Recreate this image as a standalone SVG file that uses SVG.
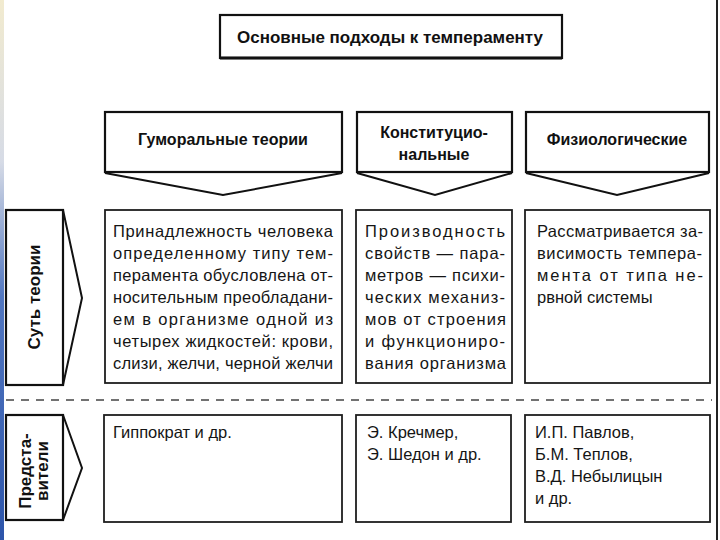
<svg xmlns="http://www.w3.org/2000/svg" width="720" height="540" viewBox="0 0 720 540">
  <style>
    .box { fill: #ffffff; stroke: #1e1e1e; stroke-width: 1.8; }
    .hbox { fill: #ffffff; stroke: #111111; stroke-width: 2.2; }
    .chev { fill: none; stroke: #111111; stroke-width: 2; stroke-linejoin: miter; }
    .dash { stroke: #444444; stroke-width: 1.6; stroke-dasharray: 8 7; }
    .t { font-family: "Liberation Sans", Arial, sans-serif; font-size: 16.5px; fill: #151515; }
    .b { font-family: "Liberation Sans", Arial, sans-serif; font-weight: bold; font-size: 16px; fill: #111111; }
    .title { font-family: "Liberation Sans", Arial, sans-serif; font-weight: bold; font-size: 17px; fill: #111111; }
    .v { font-family: "Liberation Sans", Arial, sans-serif; font-weight: bold; font-size: 17px; fill: #111111; }
  </style>
  <defs>
    <linearGradient id="edge" x1="0" y1="0" x2="0" y2="1">
      <stop offset="0" stop-color="#f2ebcf"/>
      <stop offset="0.3" stop-color="#d6dbe6"/>
      <stop offset="0.55" stop-color="#5277c0"/>
      <stop offset="1" stop-color="#2d55aa"/>
    </linearGradient>
  </defs>
  <rect x="0" y="0" width="720" height="540" fill="#ffffff"/>
  <rect x="0" y="0" width="4" height="540" fill="url(#edge)"/>
  <line x1="717" y1="0" x2="717" y2="540" stroke="#222222" stroke-width="2"/>

  <g id="title">
    <rect class="hbox" x="220" y="15" width="342" height="43"/>
    <line x1="220" y1="58" x2="562" y2="58" stroke="#111111" stroke-width="3"/>
    <text class="title" x="390" y="43" text-anchor="middle" textLength="306" lengthAdjust="spacingAndGlyphs">Основные подходы к темпераменту</text>
  </g>

  <g id="head-humoral">
    <rect class="hbox" x="105" y="112" width="237" height="60"/>
    <text class="b" x="223" y="145" text-anchor="middle">Гуморальные теории</text>
  </g>
  <g id="head-constitution">
    <rect class="hbox" x="357" y="112" width="155" height="60"/>
    <text class="b" x="434" y="138" text-anchor="middle">Конституцио-</text>
    <text class="b" x="434" y="160" text-anchor="middle">нальные</text>
  </g>
  <g id="head-physio">
    <rect class="hbox" x="526" y="112" width="183" height="60"/>
    <text class="b" x="617" y="145" text-anchor="middle">Физиологические</text>
  </g>

  <g id="label-essence">
    <rect class="hbox" x="6" y="210" width="57" height="175"/>
    <text class="v" x="34.5" y="302" text-anchor="middle" transform="rotate(-90 34.5 297)">Суть теории</text>
  </g>
  <g id="label-representatives">
    <rect class="hbox" x="6" y="415" width="57" height="105"/>
    <g transform="rotate(-90 34.5 471)">
      <text class="v" x="34.5" y="467.5" text-anchor="middle">Предста-</text>
      <text class="v" x="34.5" y="484.5" text-anchor="middle">вители</text>
    </g>
  </g>

  <g id="essence-humoral">
    <rect class="box" x="105" y="210" width="237" height="173"/>
    <text class="t" x="113" y="237" textLength="220" lengthAdjust="spacing">Принадлежность человека</text>
    <text class="t" x="113" y="259" textLength="220" lengthAdjust="spacing">определенному типу тем-</text>
    <text class="t" x="113" y="281" textLength="220" lengthAdjust="spacing">перамента обусловлена от-</text>
    <text class="t" x="113" y="303" textLength="220" lengthAdjust="spacing">носительным преобладани-</text>
    <text class="t" x="113" y="325" textLength="220" lengthAdjust="spacing">ем в организме одной из</text>
    <text class="t" x="113" y="347" textLength="220" lengthAdjust="spacing">четырех жидкостей: крови,</text>
    <text class="t" x="113" y="369" textLength="220" lengthAdjust="spacing">слизи, желчи, черной желчи</text>
  </g>
  <g id="essence-constitution">
    <rect class="box" x="356" y="210" width="156" height="173"/>
    <text class="t" x="365" y="237" textLength="140" lengthAdjust="spacing">Производность</text>
    <text class="t" x="365" y="259" textLength="140" lengthAdjust="spacing">свойств — пара-</text>
    <text class="t" x="365" y="281" textLength="140" lengthAdjust="spacing">метров — психи-</text>
    <text class="t" x="365" y="303" textLength="140" lengthAdjust="spacing">ческих механиз-</text>
    <text class="t" x="365" y="325" textLength="141" lengthAdjust="spacing">мов от строения</text>
    <text class="t" x="365" y="347" textLength="140" lengthAdjust="spacing">и функциониро-</text>
    <text class="t" x="365" y="369" textLength="141" lengthAdjust="spacing">вания организма</text>
  </g>
  <g id="essence-physio">
    <rect class="box" x="525" y="210" width="185" height="173"/>
    <text class="t" x="537" y="237" textLength="166" lengthAdjust="spacing">Рассматривается за-</text>
    <text class="t" x="537" y="259" textLength="165" lengthAdjust="spacing">висимость темпера-</text>
    <text class="t" x="537" y="281" textLength="166" lengthAdjust="spacing">мента от типа не-</text>
    <text class="t" x="537" y="303">рвной системы</text>
  </g>

  <g id="rep-humoral">
    <rect class="box" x="104" y="415" width="238" height="107"/>
    <text class="t" x="113" y="438">Гиппократ и др.</text>
  </g>
  <g id="rep-constitution">
    <rect class="box" x="356" y="415" width="155" height="107"/>
    <text class="t" x="367" y="438">Э. Кречмер,</text>
    <text class="t" x="367" y="460">Э. Шедон и др.</text>
  </g>
  <g id="rep-physio">
    <rect class="box" x="525" y="415" width="185" height="107"/>
    <text class="t" x="535" y="438">И.П. Павлов,</text>
    <text class="t" x="535" y="460">Б.М. Теплов,</text>
    <text class="t" x="535" y="482">В.Д. Небылицын</text>
    <text class="t" x="535" y="504">и др.</text>
  </g>

  <g id="connectors">
    <polyline class="chev" points="105,173 223,195 342,173"/>
    <polyline class="chev" points="357,173 435,195 512,173"/>
    <polyline class="chev" points="526,173 617,195 709,173"/>
    <polyline class="chev" points="63,210 82,298 63,385"/>
    <polyline class="chev" points="63,415 82,468 63,520"/>
    <line class="dash" x1="6" y1="400" x2="712" y2="400"/>
  </g>
</svg>
